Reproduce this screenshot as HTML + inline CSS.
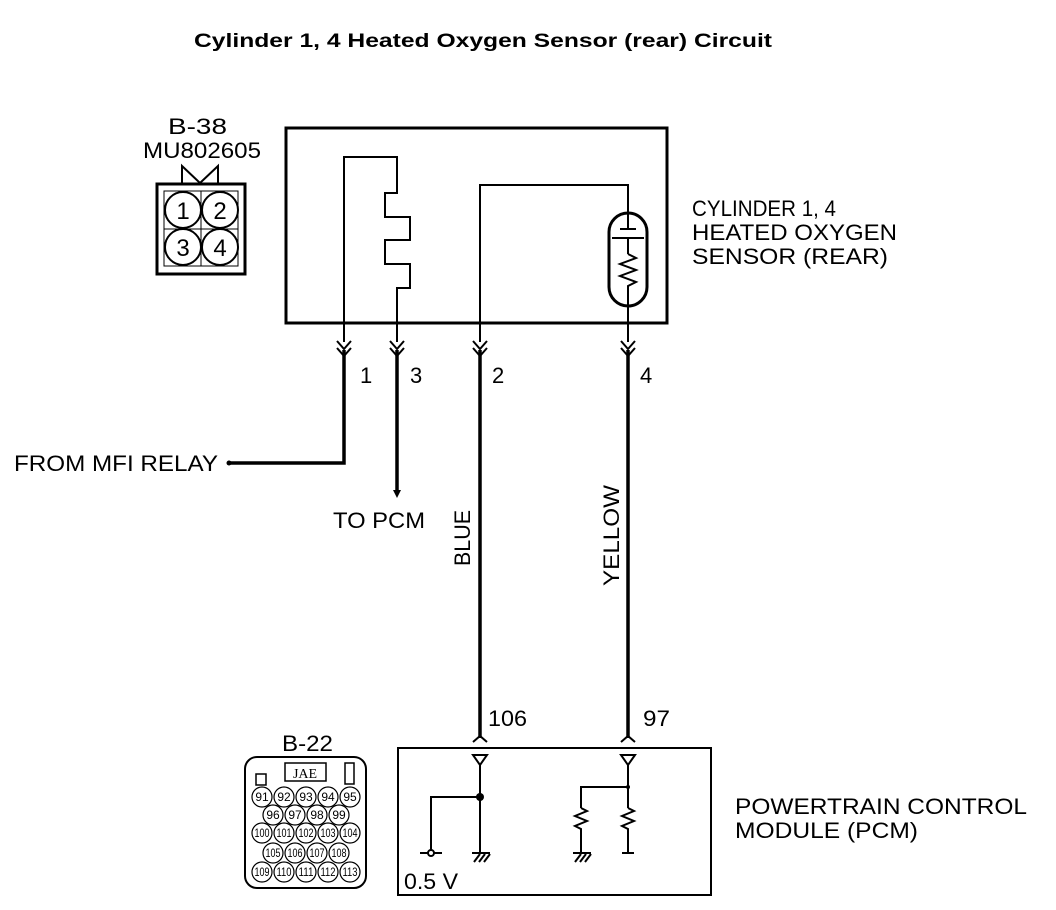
<!DOCTYPE html>
<html><head><meta charset="utf-8"><style>
html,body{margin:0;padding:0;background:#fff;}
svg{display:block;}
text{font-family:"Liberation Sans",sans-serif;fill:#000;}
</style></head><body>
<svg width="1056" height="910" viewBox="0 0 1056 910" xmlns="http://www.w3.org/2000/svg">
<text x="483" y="47" font-size="19" font-weight="bold" text-anchor="middle" textLength="578" lengthAdjust="spacingAndGlyphs">Cylinder 1, 4 Heated Oxygen Sensor (rear) Circuit</text>

<!-- B-38 connector -->
<text x="168" y="134" font-size="22" textLength="59" lengthAdjust="spacingAndGlyphs">B-38</text>
<text x="143" y="158" font-size="22" textLength="118" lengthAdjust="spacingAndGlyphs">MU802605</text>
<polyline points="182,184 182,166 200,183 218,166 218,184" fill="none" stroke="#000" stroke-width="2"/>
<rect x="157" y="184" width="88" height="90" fill="none" stroke="#000" stroke-width="3"/>
<rect x="164" y="191" width="74" height="75" fill="none" stroke="#000" stroke-width="1"/>
<line x1="201" y1="191" x2="201" y2="266" stroke="#000" stroke-width="1"/>
<line x1="164" y1="229" x2="238" y2="229" stroke="#000" stroke-width="1"/>
<g fill="#fff" stroke="#000" stroke-width="2">
<circle cx="183" cy="210" r="18"/><circle cx="220" cy="210" r="18"/>
<circle cx="183" cy="247" r="18"/><circle cx="220" cy="247" r="18"/>
</g>
<g font-size="24" text-anchor="middle">
<text x="183" y="219">1</text><text x="220" y="219">2</text>
<text x="183" y="256">3</text><text x="220" y="256">4</text>
</g>

<!-- Sensor box -->
<rect x="286" y="128" width="381" height="195" fill="none" stroke="#000" stroke-width="3"/>
<g fill="none" stroke="#000" stroke-width="2">
<polyline points="344,342 344,157 397,157 397,193 385,193 385,217 410,217 410,240 385,240 385,264 410,264 410,288 397,288 397,342"/>
<polyline points="480,342 480,185 628,185 628,229"/>
<line x1="628" y1="238" x2="628" y2="254"/>
<polyline points="628,254 636,258 620,264 636,270 620,276 636,282 628,286 628,342"/>
<line x1="620" y1="229" x2="636" y2="229"/>
<line x1="612" y1="238" x2="644" y2="238"/>
<rect x="609" y="213" width="38" height="93" rx="19" ry="19" stroke-width="3"/>
</g>
<g font-size="22">
<text x="692" y="216" textLength="144" lengthAdjust="spacingAndGlyphs">CYLINDER 1, 4</text>
<text x="692" y="240" textLength="205" lengthAdjust="spacingAndGlyphs">HEATED OXYGEN</text>
<text x="692" y="264" textLength="196" lengthAdjust="spacingAndGlyphs">SENSOR (REAR)</text>
</g>

<!-- chevrons -->
<g fill="none" stroke="#000" stroke-width="2">
<polyline points="337,341 344,349 351,341"/><polyline points="337,348 344,356 351,348"/>
<polyline points="390,341 397,349 404,341"/><polyline points="390,348 397,356 404,348"/>
<polyline points="473,341 480,349 487,341"/><polyline points="473,348 480,356 487,348"/>
<polyline points="621,341 628,349 635,341"/><polyline points="621,348 628,356 635,348"/>
</g>
<g fill="none" stroke="#000" stroke-width="3.5">
<polyline points="344,350 344,463 230,463"/>
<line x1="397" y1="350" x2="397" y2="492"/>
<line x1="480" y1="350" x2="480" y2="738"/>
<line x1="628" y1="350" x2="628" y2="738"/>
</g>
<circle cx="229" cy="463" r="2.5" fill="#000"/>
<polygon points="393,490 401,490 397,498" fill="#000"/>
<g font-size="22">
<text x="360" y="383">1</text><text x="410" y="383">3</text>
<text x="492" y="383">2</text><text x="640" y="383">4</text>
<text x="14" y="471" textLength="204" lengthAdjust="spacingAndGlyphs">FROM MFI RELAY</text>
<text x="333" y="528" textLength="92" lengthAdjust="spacingAndGlyphs">TO PCM</text>
<text transform="translate(470,566) rotate(-90)" textLength="56" lengthAdjust="spacingAndGlyphs">BLUE</text>
<text transform="translate(619,586) rotate(-90)" textLength="101" lengthAdjust="spacingAndGlyphs">YELLOW</text>
<text x="488" y="726" textLength="39" lengthAdjust="spacingAndGlyphs">106</text><text x="643" y="726" textLength="27" lengthAdjust="spacingAndGlyphs">97</text>
</g>
<g fill="none" stroke="#000" stroke-width="2">
<polyline points="473,742 480,736 487,742"/>
<polyline points="621,742 628,736 635,742"/>
</g>

<!-- PCM box -->
<rect x="398" y="748" width="313" height="147" fill="none" stroke="#000" stroke-width="2"/>
<g fill="none" stroke="#000" stroke-width="2">
<polygon points="473,755 487,755 480,765"/>
<polygon points="621,755 635,755 628,765"/>
<line x1="480" y1="765" x2="480" y2="853"/>
<polyline points="480,797 431,797 431,850"/>
<circle cx="431" cy="853" r="3"/>
<line x1="420" y1="853" x2="428" y2="853"/><line x1="434" y1="853" x2="442" y2="853"/>
<line x1="472" y1="853" x2="490" y2="853"/>
<line x1="474" y1="862" x2="480" y2="854"/><line x1="479" y1="862" x2="485" y2="854"/><line x1="484" y1="862" x2="490" y2="854"/>
<line x1="628" y1="765" x2="628" y2="808"/>
<polyline points="628,787 581,787 581,808"/>
<polyline points="581,808 587,811 575,816 587,821 575,826 581,829 581,853"/>
<polyline points="628,808 634,811 622,816 634,821 622,826 628,829 628,853"/>
<line x1="573" y1="853" x2="591" y2="853"/>
<line x1="575" y1="862" x2="581" y2="854"/><line x1="580" y1="862" x2="586" y2="854"/><line x1="585" y1="862" x2="591" y2="854"/>
<line x1="622" y1="853" x2="634" y2="853"/>
</g>
<circle cx="480" cy="797" r="4" fill="#000"/>
<circle cx="628" cy="787" r="2" fill="#000"/>
<g font-size="22">
<text x="404" y="889" textLength="54" lengthAdjust="spacingAndGlyphs">0.5 V</text>
<text x="735" y="814" textLength="292" lengthAdjust="spacingAndGlyphs">POWERTRAIN CONTROL</text>
<text x="735" y="838" textLength="183" lengthAdjust="spacingAndGlyphs">MODULE (PCM)</text>
</g>

<!-- B-22 connector -->
<text x="282" y="751" font-size="22" textLength="51" lengthAdjust="spacingAndGlyphs">B-22</text>
<rect x="245" y="757" width="121" height="131" rx="12" ry="12" fill="none" stroke="#000" stroke-width="2"/>
<g fill="none" stroke="#000" stroke-width="1.5">
<rect x="256" y="774" width="10" height="11"/>
<rect x="285" y="763" width="41" height="18"/>
<rect x="345" y="763" width="9" height="21"/>
</g>
<text x="305" y="778" font-size="14" text-anchor="middle" style="font-family:'Liberation Serif',serif">JAE</text>
<g fill="#fff" stroke="#000" stroke-width="1.2">
<circle cx="262" cy="797" r="10"/><circle cx="284" cy="797" r="10"/><circle cx="306" cy="797" r="10"/><circle cx="328" cy="797" r="10"/><circle cx="350" cy="797" r="10"/>
<circle cx="273" cy="815" r="10"/><circle cx="295" cy="815" r="10"/><circle cx="317" cy="815" r="10"/><circle cx="339" cy="815" r="10"/>
<circle cx="262" cy="833" r="10"/><circle cx="284" cy="833" r="10"/><circle cx="306" cy="833" r="10"/><circle cx="328" cy="833" r="10"/><circle cx="350" cy="833" r="10"/>
<circle cx="273" cy="853" r="10"/><circle cx="295" cy="853" r="10"/><circle cx="317" cy="853" r="10"/><circle cx="339" cy="853" r="10"/>
<circle cx="262" cy="872" r="10"/><circle cx="284" cy="872" r="10"/><circle cx="306" cy="872" r="10"/><circle cx="328" cy="872" r="10"/><circle cx="350" cy="872" r="10"/>
</g>
<g font-size="12" text-anchor="middle">
<text x="262" y="801">91</text><text x="284" y="801">92</text><text x="306" y="801">93</text><text x="328" y="801">94</text><text x="350" y="801">95</text>
<text x="273" y="819">96</text><text x="295" y="819">97</text><text x="317" y="819">98</text><text x="339" y="819">99</text>
<text x="262" y="837" textLength="15" lengthAdjust="spacingAndGlyphs">100</text><text x="284" y="837" textLength="15" lengthAdjust="spacingAndGlyphs">101</text><text x="306" y="837" textLength="15" lengthAdjust="spacingAndGlyphs">102</text><text x="328" y="837" textLength="15" lengthAdjust="spacingAndGlyphs">103</text><text x="350" y="837" textLength="15" lengthAdjust="spacingAndGlyphs">104</text>
<text x="273" y="857" textLength="15" lengthAdjust="spacingAndGlyphs">105</text><text x="295" y="857" textLength="15" lengthAdjust="spacingAndGlyphs">106</text><text x="317" y="857" textLength="15" lengthAdjust="spacingAndGlyphs">107</text><text x="339" y="857" textLength="15" lengthAdjust="spacingAndGlyphs">108</text>
<text x="262" y="876" textLength="15" lengthAdjust="spacingAndGlyphs">109</text><text x="284" y="876" textLength="15" lengthAdjust="spacingAndGlyphs">110</text><text x="306" y="876" textLength="15" lengthAdjust="spacingAndGlyphs">111</text><text x="328" y="876" textLength="15" lengthAdjust="spacingAndGlyphs">112</text><text x="350" y="876" textLength="15" lengthAdjust="spacingAndGlyphs">113</text>
</g>
</svg>
</body></html>
